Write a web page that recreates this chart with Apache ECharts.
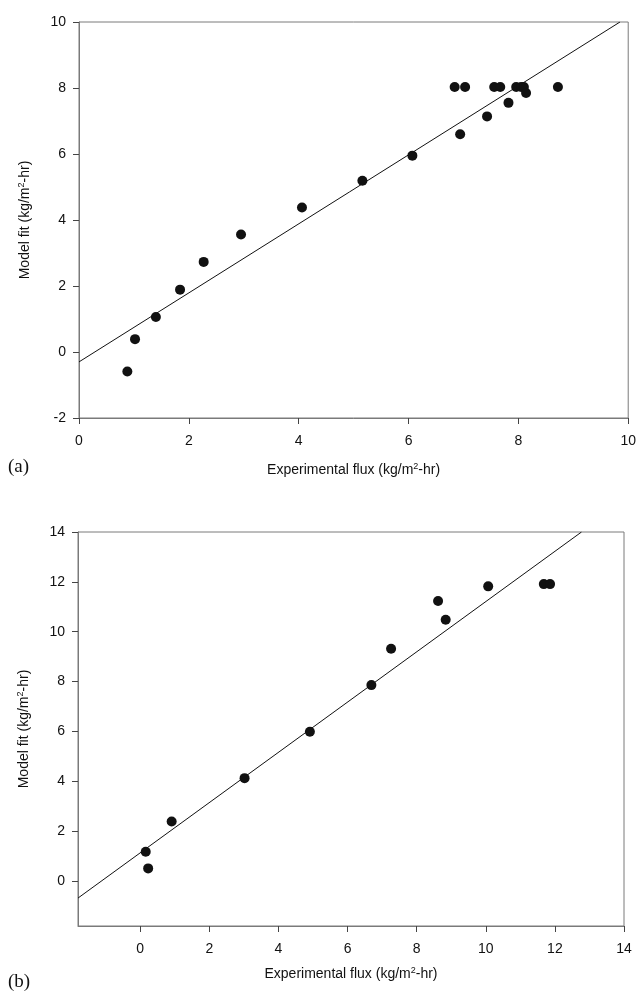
<!DOCTYPE html>
<html><head><meta charset="utf-8">
<script src="https://cdn.jsdelivr.net/npm/echarts@6/dist/echarts.min.js"></script>
<style>html,body{margin:0;padding:0;background:#fff}#c{width:639px;height:999px}</style>
</head><body><div id="c"></div>
<script>
// Panel (a)
const expA = [0.88,1.02,1.40,1.84,2.27,2.95,4.06,5.16,6.07,6.84,7.03,6.94,7.43,7.56,7.67,7.82,7.96,8.05,8.10,8.14,8.72];
const fitA = [-0.59,0.39,1.06,1.89,2.73,3.56,4.38,5.19,5.95,8.03,8.03,6.60,7.14,8.03,8.03,7.55,8.03,8.03,8.03,7.85,8.03];
const lineAx = [0, 9.85];
const lineAy = [-0.30, 10];
const xTicksA = [0,2,4,6,8,10];
const yTicksA = [-2,0,2,4,6,8,10];
// Panel (b)
const expB = [0.16,0.23,0.91,3.02,4.91,6.69,7.26,8.62,8.84,10.07,11.68,11.86];
const fitB = [1.18,0.51,2.39,4.13,5.99,7.86,9.32,11.23,10.48,11.82,11.91,11.91];
const lineBx = [-1.8, 12.77];
const lineBy = [-0.68, 14];
const xTicksB = [0,2,4,6,8,10,12,14];
const yTicksB = [0,2,4,6,8,10,12,14];

const xName = 'Experimental flux (kg/m{s|2}-hr)';
const yName = 'Model fit (kg/m{s|2}-hr)';
const FONT = 'Liberation Sans, Arial, sans-serif';
const rich = {s:{fontSize:9, verticalAlign:'top', padding:[0,0,8,0], fontFamily:FONT, color:'#111'}};

function axis(gi, min, max, ticks, name, isY, gap){
  return {
    type:'value', gridIndex:gi, min:min, max:max,
    name:name, nameLocation:'middle', nameGap:gap,
    nameTextStyle:{fontSize:14, fontFamily:FONT, color:'#111', rich:rich},
    axisLine:{show:true, onZero:false, lineStyle:{color:'#7a7a7a', width:1}},
    axisTick:{show:true, inside:false, length:6, lineStyle:{color:'#444'}, customValues:ticks},
    axisLabel:{show:true, fontSize:14, fontFamily:FONT, color:'#111', margin: isY?13:16, customValues:ticks},
    splitLine:{show:false}
  };
}

function pairs(xs, ys){ return xs.map((x,i)=>[x, ys[i]]); }

const chart = echarts.init(document.getElementById('c'), null, {renderer:'canvas'});
chart.setOption({
  animation:false,
  backgroundColor:'#fff',
  grid:[
    {left:79, top:22, width:551, height:396, show:true, borderColor:'#7a7a7a', borderWidth:1, backgroundColor:'transparent'},
    {left:78, top:532, width:546, height:394, show:true, borderColor:'#7a7a7a', borderWidth:1, backgroundColor:'transparent'}
  ],
  xAxis:[
    axis(0, 0, 10, xTicksA, xName, false, 44),
    axis(1, -1.8, 14, xTicksB, xName, false, 40)
  ],
  yAxis:[
    axis(0, -2, 10, yTicksA, yName, true, 45),
    axis(1, -1.8, 14, yTicksB, yName, true, 45)
  ],
  graphic:[
    {type:'text', left:8, top:458, style:{text:'(a)', fontSize:19, fontFamily:'Liberation Serif, DejaVu Serif, serif', fill:'#111'}},
    {type:'text', left:8, top:973, style:{text:'(b)', fontSize:19, fontFamily:'Liberation Serif, DejaVu Serif, serif', fill:'#111'}}
  ],
  series:[
    {type:'line', xAxisIndex:0, yAxisIndex:0, data:pairs(lineAx,lineAy), symbol:'none', lineStyle:{color:'#111', width:1}, z:2},
    {type:'scatter', xAxisIndex:0, yAxisIndex:0, data:pairs(expA,fitA), symbol:'circle', symbolSize:10, itemStyle:{color:'#111', opacity:1}, z:3},
    {type:'line', xAxisIndex:1, yAxisIndex:1, data:pairs(lineBx,lineBy), symbol:'none', lineStyle:{color:'#111', width:1}, z:2},
    {type:'scatter', xAxisIndex:1, yAxisIndex:1, data:pairs(expB,fitB), symbol:'circle', symbolSize:10, itemStyle:{color:'#111', opacity:1}, z:3}
  ]
});
</script>
</body></html>
